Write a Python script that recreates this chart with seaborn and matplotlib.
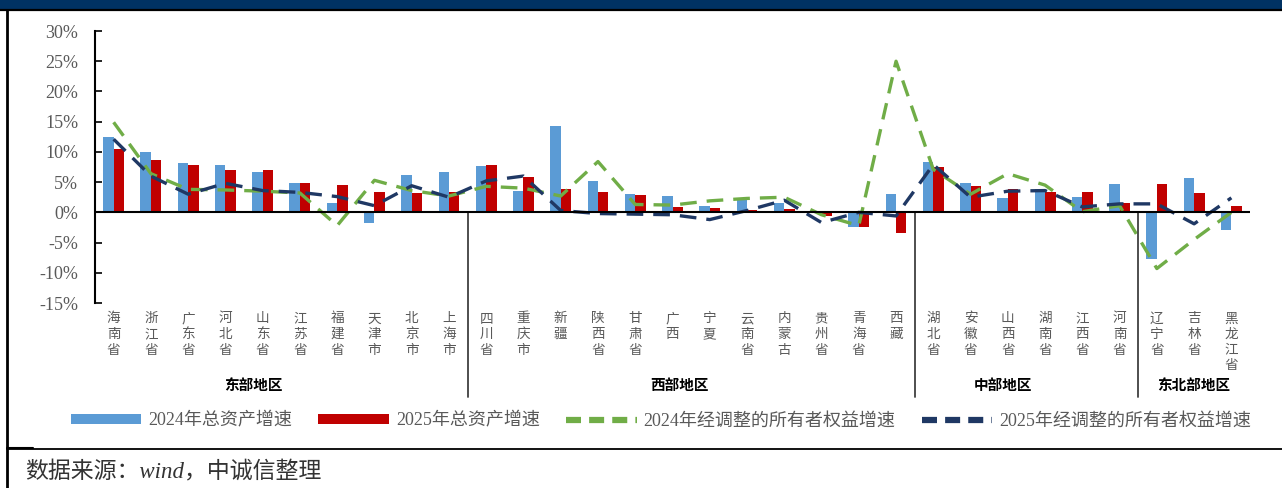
import numpy as np
import pandas as pd
import matplotlib
matplotlib.use("Agg")
import matplotlib.pyplot as plt
import seaborn as sns
from matplotlib.lines import Line2D
from matplotlib.patches import Patch, Rectangle
from matplotlib.transforms import blended_transform_factory

# ---------------- data ----------------
provinces = ['海南省', '浙江省', '广东省', '河北省', '山东省', '江苏省', '福建省', '天津市', '北京市', '上海市',
             '四川省', '重庆市', '新疆', '陕西省', '甘肃省', '广西', '宁夏', '云南省', '内蒙古', '贵州省', '青海省', '西藏',
             '湖北省', '安徽省', '山西省', '湖南省', '江西省', '河南省',
             '辽宁省', '吉林省', '黑龙江省']

assets_2024 = [12.4, 9.9, 8.2, 7.9, 6.7, 4.8, 1.5, -1.8, 6.2, 6.6,
               7.6, 3.5, 14.3, 5.2, 3.1, 2.7, 1.0, 2.4, 1.6, -0.1, -2.4, 3.1,
               8.3, 4.8, 2.3, 3.8, 2.6, 4.7,
               -7.7, 5.6, -3.0]
assets_2025 = [10.5, 8.7, 7.9, 7.0, 7.0, 4.9, 4.6, 3.4, 3.2, 3.3,
               7.8, 5.8, 3.8, 3.4, 2.9, 0.8, 0.7, 0.4, 0.5, -0.6, -2.4, -3.5,
               7.5, 4.4, 3.8, 3.3, 3.4, 1.5,
               4.7, 3.2, 1.1]
equity_2024 = [14.9, 6.4, 3.8, 3.7, 3.5, 3.2, -2.2, 5.3, 3.6, 2.7,
               4.3, 4.0, 2.7, 8.4, 1.3, 1.2, 1.9, 2.3, 2.5, -0.4, -2.2, 25.0,
               7.1, 3.0, 6.4, 4.5, 0.1, 1.1,
               -9.3, -4.5, 0.0]
equity_2025 = [12.1, 6.0, 3.0, 4.8, 3.6, 3.3, 2.6, 1.1, 4.4, 2.5,
               5.2, 6.0, 0.3, -0.2, -0.3, -0.4, -1.2, 0.3, 2.0, -1.7, 0.0, -0.6,
               7.9, 2.5, 3.5, 3.6, 0.9, 1.4,
               1.4, -1.9, 2.4]

regions = ['东部地区', '西部地区', '中部地区', '东北部地区']
region_sizes = [10, 12, 6, 3]

series_names = ['2024年总资产增速', '2025年总资产增速', '2024年经调整的所有者权益增速', '2025年经调整的所有者权益增速']
yticks = [30, 25, 20, 15, 10, 5, 0, -5, -10, -15]

# ---------------- style ----------------
sns.set_theme(style="white")
plt.rcParams['font.family'] = ['Liberation Serif', 'Noto Sans CJK SC', 'DejaVu Sans']
plt.rcParams['axes.unicode_minus'] = False

BLUE = '#5B9BD5'
RED = '#C00000'
GREEN = '#70AD47'
NAVY = '#1F3864'
GRAY = '#595959'

W, H = 1282, 488
fig = plt.figure(figsize=(W / 100, H / 100), dpi=100)
ax = fig.add_axes([95 / W, 1 - 303 / H, (1250 - 95) / W, (303 - 31) / H])

df = pd.DataFrame({
    'province': provinces * 2,
    'value': assets_2024 + assets_2025,
    'series': [series_names[0]] * len(provinces) + [series_names[1]] * len(provinces),
})
sns.barplot(data=df, x='province', y='value', hue='series', order=provinces,
            hue_order=series_names[:2], palette=[BLUE, RED], width=0.56,
            dodge=True, ax=ax, legend=False, linewidth=0, saturation=1)

pos = np.arange(len(provinces))
sns.lineplot(x=pos, y=equity_2024, ax=ax, color=GREEN, linewidth=2.4,
             linestyle=(0, (5, 3)), legend=False)
sns.lineplot(x=pos, y=equity_2025, ax=ax, color=NAVY, linewidth=2.4,
             linestyle=(0, (5, 3)), legend=False)

ax.axhline(0, color='black', linewidth=1.5, zorder=5)

ax.set_xlim(-0.5, len(provinces) - 0.5)
ax.set_ylim(-15, 30)
ax.set_yticks(yticks)
ax.set_yticklabels([f'{v}%' for v in yticks], fontsize=13, color=GRAY,
                   family=['Liberation Serif'])
ax.tick_params(axis='y', direction='in', length=5, width=1.2, color='black', pad=12, left=True)
ax.set_xticks(pos)
ax.set_xticklabels(['\n'.join(p) for p in provinces], fontsize=9.8, color=GRAY,
                   family=['Noto Sans CJK SC'], va='top', linespacing=1.15)
ax.tick_params(axis='x', length=0, pad=6)
ax.set_xlabel('')
ax.set_ylabel('')
for s in ['top', 'right', 'bottom']:
    ax.spines[s].set_visible(False)
ax.spines['left'].set_color('black')
ax.spines['left'].set_linewidth(1.5)
ax.grid(False)

# region separators and labels
btrans = blended_transform_factory(ax.transData, ax.transAxes)
zero_frac = (0 - (-15)) / 45
ybot = (303 - 397) / (303 - 31)
cum = np.cumsum(region_sizes)
for c in cum[:-1]:
    ax.axvline(c - 0.5, ymin=ybot, ymax=zero_frac, color='#404040', linewidth=1.3, clip_on=False)
label_x = [3.74, 15.18, 23.87, 29.0]
ylab = (303 - 385) / (303 - 31)
for name, lx in zip(regions, label_x):
    ax.text(lx, ylab, name, transform=btrans, ha='center', va='center', fontsize=10.5,
            fontweight='bold', color='black', family=['Noto Sans CJK SC'])

# legend
handles = [Patch(facecolor=BLUE, edgecolor='none'),
           Patch(facecolor=RED, edgecolor='none'),
           Line2D([0], [0], color=GREEN, linewidth=4.5, linestyle=(0, (2.4, 1.3))),
           Line2D([0], [0], color=NAVY, linewidth=4.5, linestyle=(0, (2.4, 1.3)))]
leg = fig.legend(handles, series_names, loc='center', bbox_to_anchor=(661 / W, 1 - 421 / H),
                 ncol=4, frameon=False, fontsize=13, handlelength=3.9, handleheight=0.45,
                 handletextpad=0.4, columnspacing=1.45, labelcolor=GRAY)

# frame decorations
fig.add_artist(Rectangle((0, 1 - 9 / H), 1, 9 / H, transform=fig.transFigure,
                         facecolor='#003263', edgecolor='none'))
fig.add_artist(Line2D([0, 1], [1 - 10 / H, 1 - 10 / H], transform=fig.transFigure,
                      color='black', linewidth=1.6))
fig.add_artist(Line2D([6.5 / W, 6.5 / W], [0, 1 - 10 / H], transform=fig.transFigure,
                      color='black', linewidth=2))
fig.add_artist(Line2D([6.5 / W, 1], [1 - 449 / H, 1 - 449 / H], transform=fig.transFigure,
                      color='black', linewidth=1.3))
fig.add_artist(Line2D([6.5 / W, 33 / W], [1 - 447.5 / H, 1 - 447.5 / H], transform=fig.transFigure,
                      color='black', linewidth=1.5))

fig.text(25 / W, 1 - 472 / H, '数据来源：wind，中诚信整理', ha='left', va='center', fontsize=16.5,
         style='italic', color='#333333', family=['Liberation Serif', 'Noto Sans CJK SC'])

fig.savefig('out.png', dpi=100, facecolor='white')
